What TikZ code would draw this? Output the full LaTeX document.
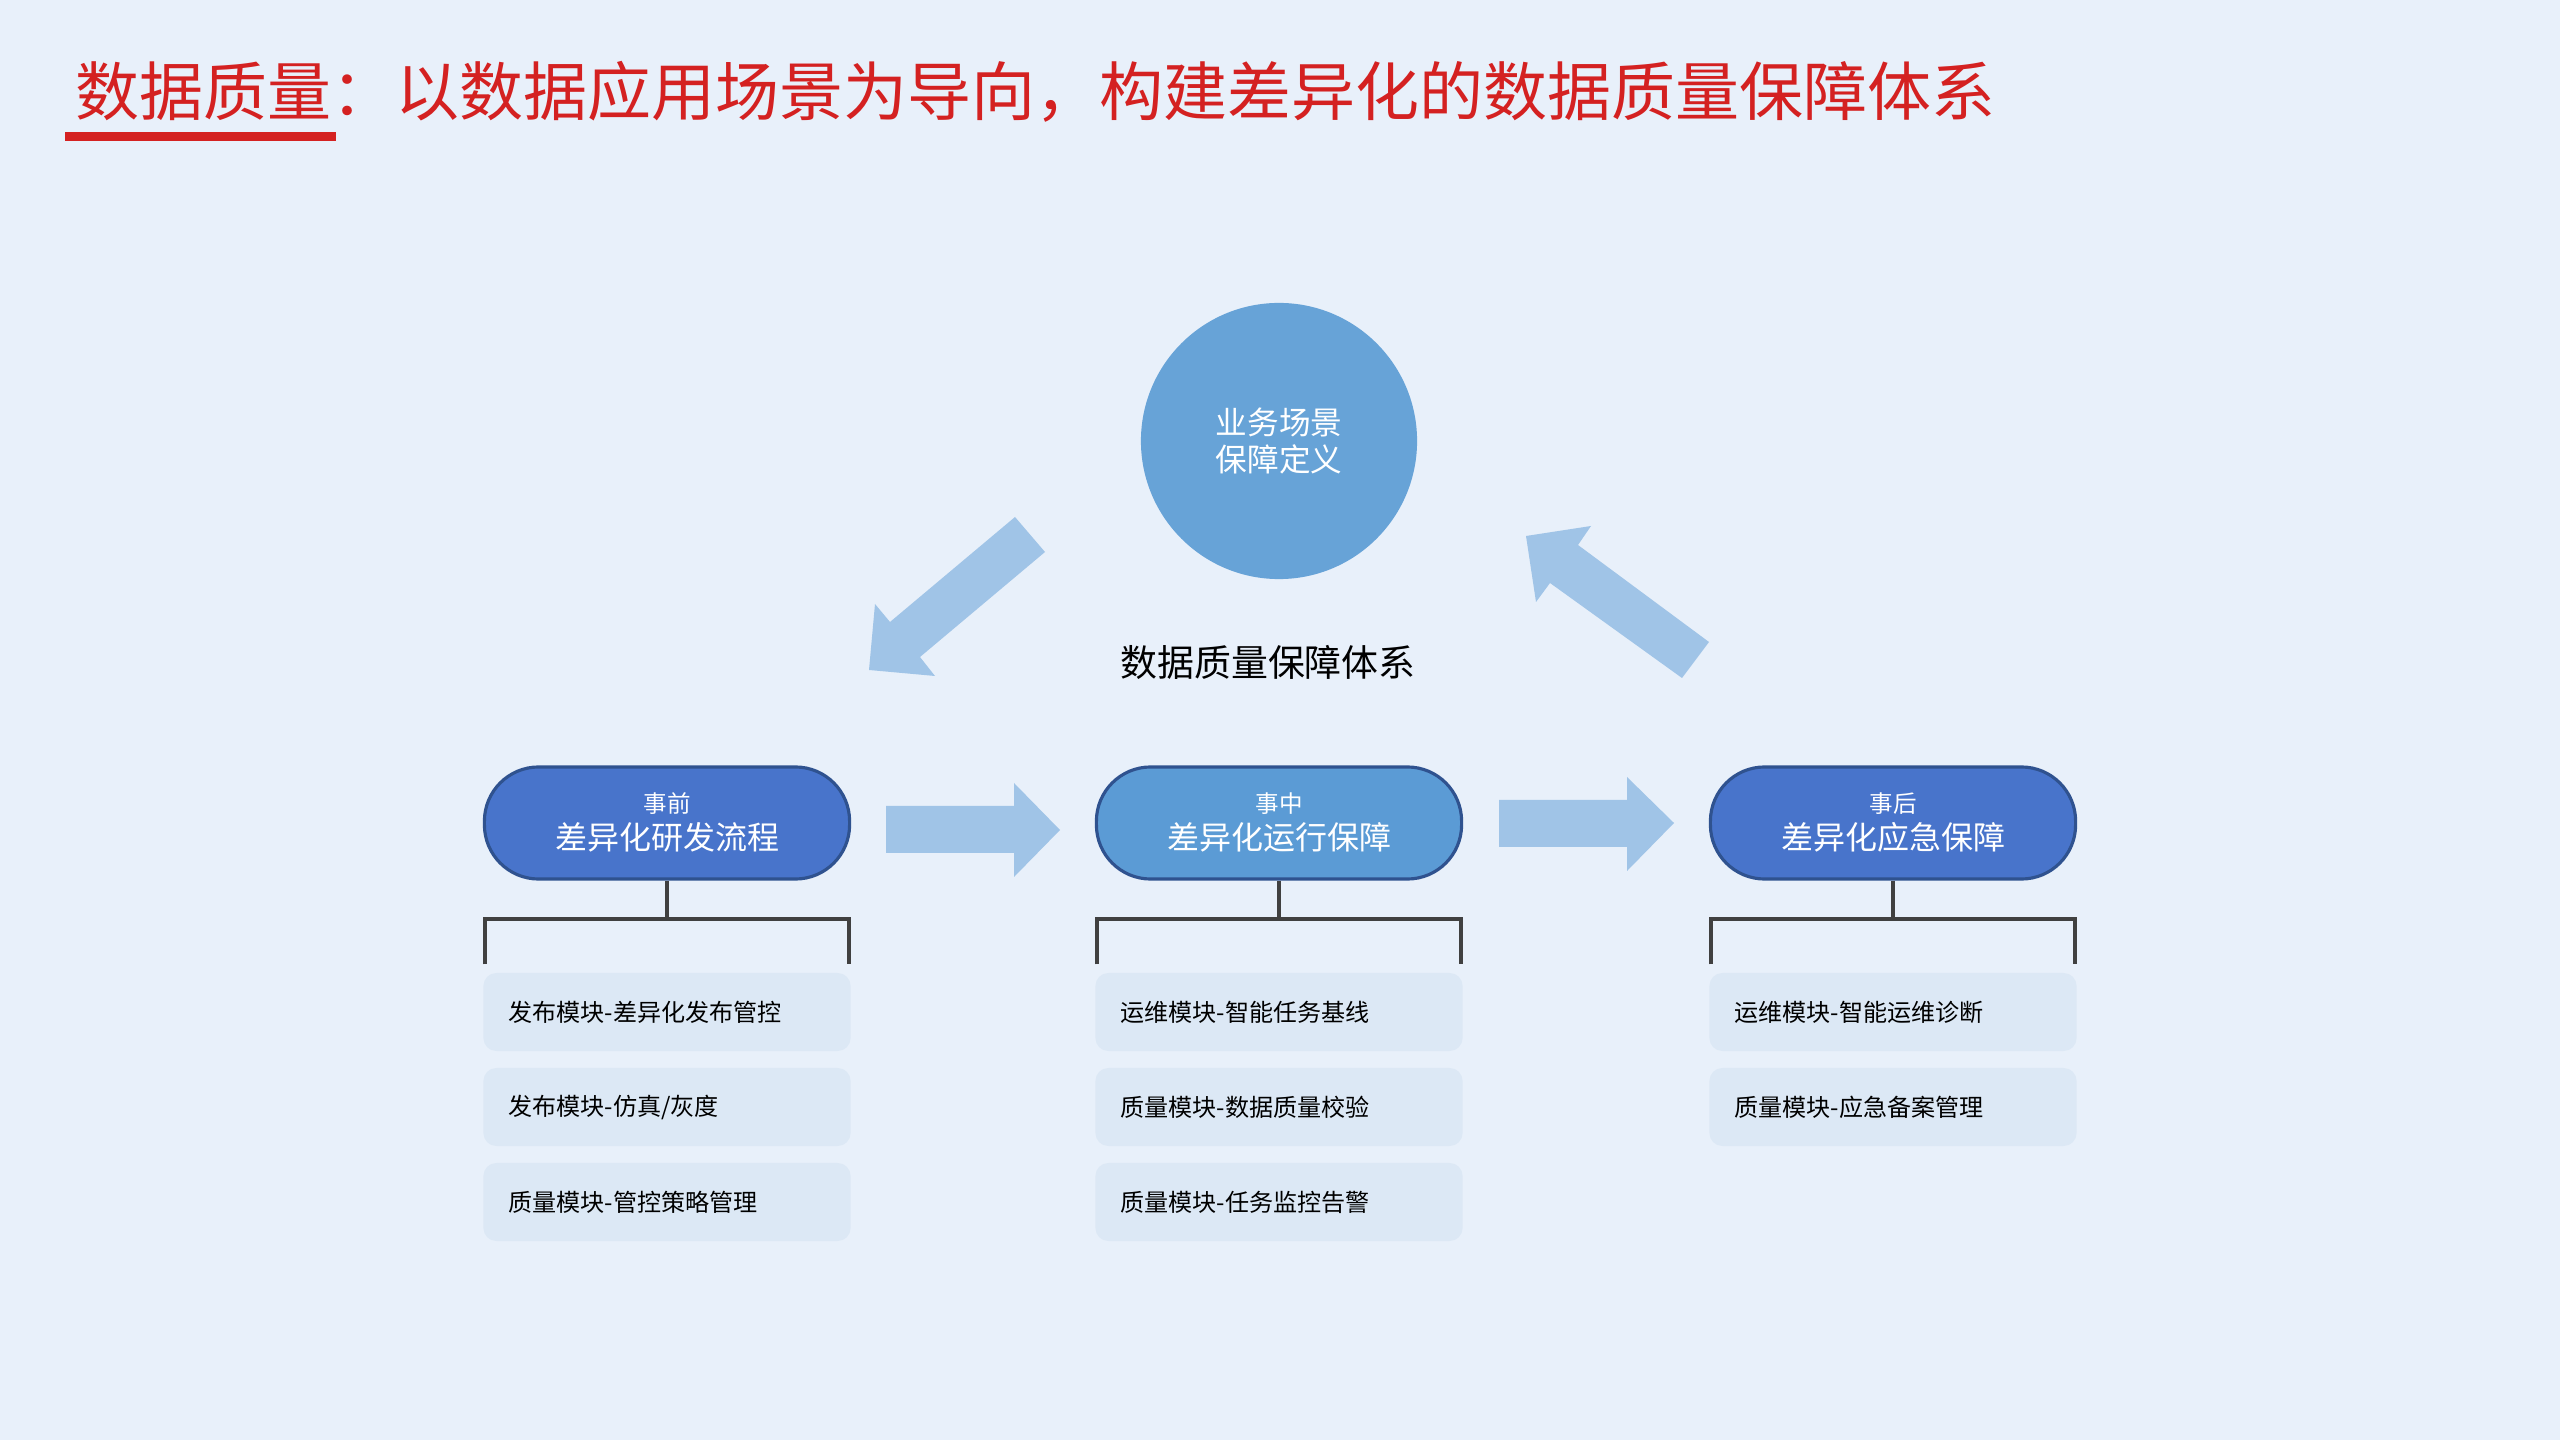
\documentclass[tikz,border=0pt]{standalone}
\usepackage{fontspec}
\setmainfont{Noto Sans CJK SC}
\usetikzlibrary{calc}
\definecolor{bgc}{HTML}{E8F0FA}
\definecolor{titlered}{HTML}{D42121}
\definecolor{circc}{HTML}{67A3D7}
\definecolor{pilldark}{HTML}{4874CB}
\definecolor{pillmid}{HTML}{5B9BD5}
\definecolor{pillborder}{HTML}{2F528F}
\definecolor{itemc}{HTML}{DCE8F5}
\definecolor{arrowc}{HTML}{A0C4E7}
\definecolor{connc}{HTML}{404040}
\tikzset{
  pillbox/.style={draw=pillborder, line width=0.9pt, rounded corners=56*0.01cm-0.5pt,
    minimum width=3.65cm, minimum height=1.12cm, inner sep=0pt},
  pilltop/.style={text=white, font=\fontsize{6.7}{8}\selectfont, inner sep=0pt},
  pillmain/.style={text=white, font=\fontsize{9.1}{11}\selectfont, inner sep=0pt},
  itembox/.style={fill=itemc, rounded corners=0.13cm, minimum width=3.67cm, minimum height=0.78cm, inner sep=0pt},
  itemtext/.style={text=black, font=\fontsize{6.85}{8}\selectfont, inner sep=0pt, anchor=west},
  conn/.style={draw=connc, line width=1.14pt},
  blockarrow/.style={fill=arrowc}
}
\begin{document}
\begin{tikzpicture}[x=0.01cm, y=-0.01cm]
\useasboundingbox (0,0) rectangle (2560,1440);
\fill[bgc] (0,0) rectangle (2560,1440);

% title
\node[anchor=west, inner sep=0pt, text=titlered, font=\fontsize{18.2}{21}\selectfont] (title) at (75,92) {数据质量：以数据应用场景为导向，构建差异化的数据质量保障体系};
\fill[titlered] (65,132) rectangle (336,141);

% circle
\node[circle, fill=circc, minimum size=2.76cm, inner sep=0pt, text=white, align=center,
  font=\fontsize{9}{10.6}\selectfont] (biz) at (1279,441) {业务场景\\保障定义};

% centre label
\node[inner sep=0pt, font=\fontsize{10.5}{12}\selectfont] (sys) at (1268,662) {数据质量保障体系};

% diagonal block arrows
\fill[blockarrow] (1015,517) -- (1045,552) -- (920,657) -- (935,676) -- (869,670) -- (875,604) -- (890,622) -- cycle;
\fill[blockarrow] (1709,642) -- (1682,678) -- (1550,583) -- (1536,602) -- (1526,536) -- (1591,526) -- (1578,545) -- cycle;

% horizontal block arrows
\fill[blockarrow] (886,806) -- (1014,806) -- (1014,783) -- (1060,830) -- (1014,877) -- (1014,853) -- (886,853) -- cycle;
\fill[blockarrow] (1499,800) -- (1627,800) -- (1627,777) -- (1674,823) -- (1627,871) -- (1627,847) -- (1499,847) -- cycle;

% pills
\node[pillbox, fill=pilldark] (p1) at (667,823) {};
\node[pillbox, fill=pillmid] (p2) at (1279,823) {};
\node[pillbox, fill=pilldark] (p3) at (1893,823) {};
\node[pilltop] (p1a) at ($(p1.center)+(0,-19)$) {事前};
\node[pillmain] (p1b) at ($(p1.center)+(0,14)$) {差异化研发流程};
\node[pilltop] (p2a) at ($(p2.center)+(0,-19)$) {事中};
\node[pillmain] (p2b) at ($(p2.center)+(0,14)$) {差异化运行保障};
\node[pilltop] (p3a) at ($(p3.center)+(0,-19)$) {事后};
\node[pillmain] (p3b) at ($(p3.center)+(0,14)$) {差异化应急保障};

% items
\foreach \c/\x in {1/667, 2/1279, 3/1893} {
  \node[itembox] (i\c1) at (\x,1012) {};
  \node[itembox] (i\c2) at (\x,1107) {};
}
\node[itembox] (i13) at (667,1202) {};
\node[itembox] (i23) at (1279,1202) {};

\node[itemtext] (t11) at ($(i11.west)+(25,0)$) {发布模块-差异化发布管控};
\node[itemtext] (t12) at ($(i12.west)+(25,0)$) {发布模块-仿真/灰度};
\node[itemtext] (t13) at ($(i13.west)+(25,0)$) {质量模块-管控策略管理};
\node[itemtext] (t21) at ($(i21.west)+(25,0)$) {运维模块-智能任务基线};
\node[itemtext] (t22) at ($(i22.west)+(25,0)$) {质量模块-数据质量校验};
\node[itemtext] (t23) at ($(i23.west)+(25,0)$) {质量模块-任务监控告警};
\node[itemtext] (t31) at ($(i31.west)+(25,0)$) {运维模块-智能运维诊断};
\node[itemtext] (t32) at ($(i32.west)+(25,0)$) {质量模块-应急备案管理};

% brackets
\foreach \c in {1,2,3} {
  \draw[conn] (p\c.south) -- ++(0,38) coordinate (j\c);
  \draw[conn] ($(i\c1.north west)+(2,-8)$) |- (j\c) -| ($(i\c1.north east)+(-2,-8)$);
}
\end{tikzpicture}
\end{document}
